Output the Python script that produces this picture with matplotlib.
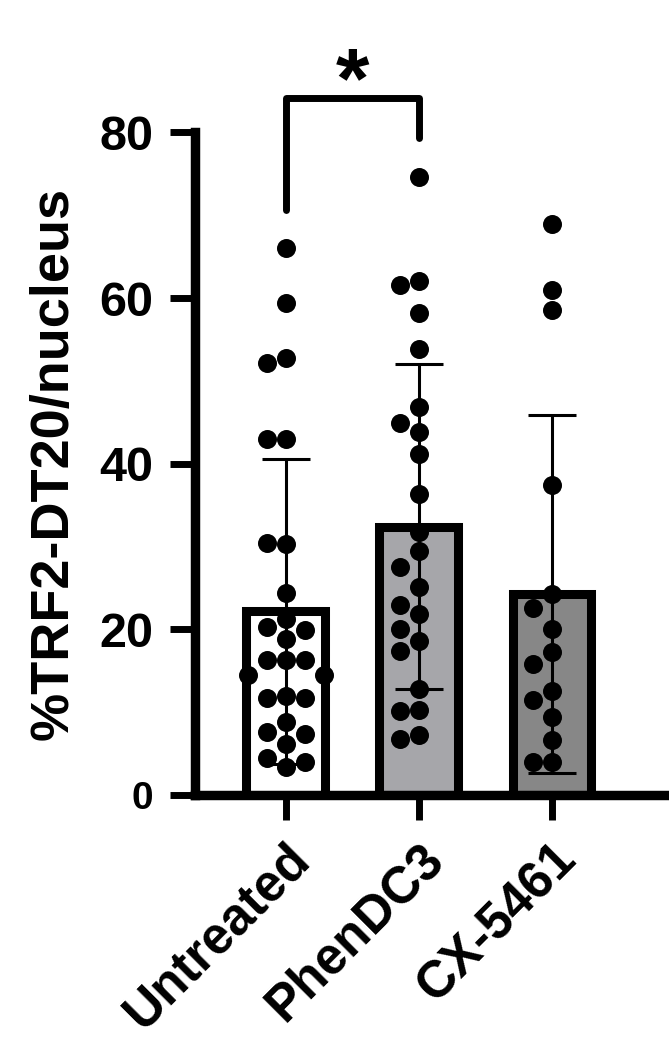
import numpy as np
import matplotlib
matplotlib.use("Agg")
import matplotlib.pyplot as plt

plt.rcParams['font.family'] = ['Liberation Sans', 'DejaVu Sans']
plt.rcParams['font.weight'] = 'bold'

groups = ["Untreated", "PhenDC3", "CX-5461"]
means = [22.2, 32.4, 24.3]
sds = [18.4, 19.6, 21.6]
bar_colors = ["#ffffff", "#a6a6aa", "#878787"]

untreated = [66.0, 59.4, 52.7, 52.2, 43.0, 43.0, 30.3, 30.4, 24.4, 21.2, 20.3, 19.9,
             18.8, 16.3, 16.3, 16.3, 14.5, 14.5, 11.9, 11.7, 11.7, 8.8, 7.6, 7.4,
             6.2, 4.5, 4.0, 3.4]
phendc3 = [74.6, 62.0, 61.6, 58.2, 53.8, 46.9, 44.9, 43.8, 41.2, 36.4, 31.8, 29.5,
           27.5, 25.1, 22.9, 21.9, 20.1, 18.6, 17.4, 12.8, 10.3, 10.1, 7.3, 6.8]
cx5461 = [68.9, 61.0, 58.6, 37.4, 24.3, 22.6, 20.0, 17.3, 15.8, 12.5, 11.5, 9.4,
          6.7, 4.0, 4.0]
points = [untreated, phendc3, cx5461]

yticks = [0, 20, 40, 60, 80]
sig_pair = (0, 1)
sig_label = "*"


def swarm_offsets(values, ax, diam_px):
    # greedy column scatter, done in pixel space
    to_px = ax.transData
    placed = []
    offs = []
    for v in values:
        py = to_px.transform((0, v))[1]
        k = 0
        for k in [0, -1, 1, -2, 2, -3, 3]:
            px = k * diam_px
            if all(np.hypot(px - qx, py - qy) >= diam_px * 0.98 for qx, qy in placed):
                break
        placed.append((k * diam_px, py))
        offs.append(k * diam_px)
    return np.array(offs)


fig = plt.figure(figsize=(6.69, 10.42), dpi=100)
ax = fig.add_axes([0.2915, 0.237, 0.7085, 0.636])

x = np.arange(len(groups))
ax.set_xlim(-0.68, 2.88)
ax.set_ylim(0, 80)

ax.bar(x, means, width=0.59, color=bar_colors, edgecolor="black", linewidth=6.5, zorder=2)
ax.errorbar(x, means, yerr=sds, fmt="none", ecolor="black", elinewidth=2.2,
            capsize=17, capthick=2.2, zorder=3)

fig.canvas.draw()
px_per_x = ax.transData.transform((1, 0))[0] - ax.transData.transform((0, 0))[0]
diam = 19.0
for i, vals in enumerate(points):
    offs = swarm_offsets(vals, ax, diam) / px_per_x
    ax.scatter(x[i] + offs, vals, s=(diam * 0.72) ** 2, color="black", zorder=4,
               linewidths=0, clip_on=False)

for side in ["top", "right"]:
    ax.spines[side].set_visible(False)
for side in ["left", "bottom"]:
    ax.spines[side].set_linewidth(6.8)

ax.set_yticks(yticks)
ax.set_xticks(x)
ax.set_xticklabels(groups, rotation=45, ha="right", va="top", rotation_mode="anchor",
                   fontsize=37)
ax.tick_params(axis="y", length=18, width=5, labelsize=35, pad=12)
ax.tick_params(axis="x", length=18, width=5, pad=10)
for lab in ax.get_yticklabels():
    if lab.get_text() == "0":
        lab.set_fontsize(28)

ax.set_ylabel("%TRF2-DT20/nucleus", fontsize=39, fontweight="bold")
ax.yaxis.set_label_coords(-0.245, 0.5)

# significance bracket
a, b = sig_pair
y_top = 84.1
ax.plot([x[a], x[a], x[b], x[b]], [70.6, y_top, y_top, 79.3], color="black",
        linewidth=5, clip_on=False, solid_capstyle="round", zorder=5)
ax.text((x[a] + x[b]) / 2, y_top - 3.2, sig_label, ha="center", va="bottom",
        fontsize=62, fontweight="bold")

fig.savefig("out.png", dpi=100)
